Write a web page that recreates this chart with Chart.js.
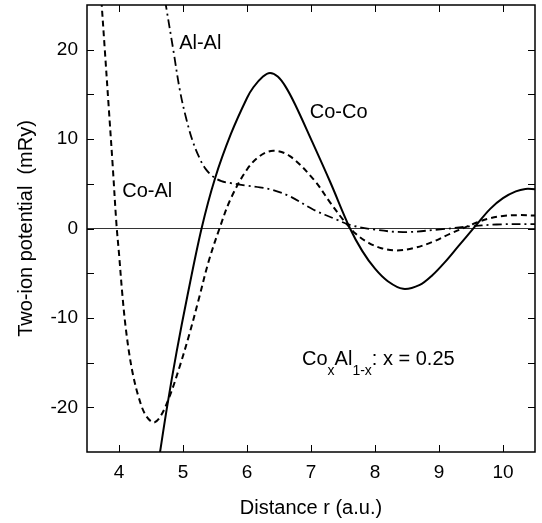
<!DOCTYPE html>
<html>
<head>
<meta charset="utf-8">
<script src="https://cdn.jsdelivr.net/npm/chart.js@4"></script>
<style>
  html, body { margin: 0; padding: 0; background: #fff; }
  canvas { display: block; }
</style>
</head>
<body>
<canvas id="chart" width="542" height="523"></canvas>
<script>
// two-ion potentials (r in a.u., V in mRy)
const coCoR = [4.62, 4.75, 4.9, 5.07, 5.29, 5.5, 5.75, 6.0, 6.1, 6.25, 6.36, 6.48, 6.6, 6.75, 7.0,
  7.3, 7.61, 7.8, 8.0, 8.2, 8.44, 8.7, 8.9, 9.1, 9.3, 9.56, 9.8, 10.0, 10.2, 10.35, 10.5];
const coCoV = [-26, -20, -13.8, -7.5, 0, 5.6, 10.6, 14.6, 15.8, 17.0, 17.4, 17.0, 15.9, 13.9, 10.0,
  5.2, 0, -2.5, -4.5, -5.9, -6.75, -6.3, -5.2, -3.7, -2.0, 0.2, 2.2, 3.4, 4.15, 4.42, 4.4];

const coAlR = [3.725, 3.78, 3.84, 3.9, 3.96, 4.0, 4.05, 4.1, 4.16, 4.22, 4.3, 4.41, 4.54, 4.65,
  4.8, 4.95, 5.1, 5.25, 5.4, 5.57, 5.75, 6.0, 6.2, 6.41, 6.67, 7.04, 7.3, 7.5, 7.7, 7.9, 8.1,
  8.34, 8.6, 8.9, 9.17, 9.4, 9.6, 9.8, 10.0, 10.25, 10.5];
const coAlV = [25.5, 19.8, 13.5, 7.2, 0.5, -2.8, -7.2, -10.8, -14.0, -16.4, -18.7, -20.8, -21.7, -21.0,
  -18.6, -15.4, -11.8, -7.8, -3.7, 0, 3.4, 6.6, 8.1, 8.7, 8.1, 5.5, 2.9, 1.0, -0.6, -1.6, -2.2,
  -2.45, -2.2, -1.5, -0.6, 0.1, 0.7, 1.15, 1.4, 1.5, 1.45];

const alAlR = [4.72, 4.85, 4.95, 5.05, 5.15, 5.25, 5.35, 5.47, 5.6, 5.73, 5.99, 6.2, 6.41, 6.67,
  7.04, 7.4, 7.61, 7.97, 8.44, 9.02, 9.43, 9.9, 10.5];
const alAlV = [25.5, 19.9, 15.5, 12.3, 9.8, 8.0, 6.7, 5.8, 5.3, 5.1, 4.8, 4.6, 4.3, 3.6,
  2.1, 1.0, 0.4, -0.1, -0.4, -0.1, 0.2, 0.45, 0.5];

const xTicks = [4, 5, 6, 7, 8, 9, 10];
const yTicks = [-20, -15, -10, -5, 0, 5, 10, 15, 20];

const FONT = "'Liberation Sans', Arial, Helvetica, sans-serif";

function toPoints(xs, ys) {
  return xs.map((x, i) => ({ x: x, y: ys[i] }));
}

function series(xs, ys, dash, width) {
  return {
    data: toPoints(xs, ys),
    borderColor: '#000',
    borderWidth: width,
    borderDash: dash,
    pointRadius: 0,
    showLine: true,
    fill: false,
    tension: 0.35
  };
}

// curve labels, placed in data coordinates (left edge, baseline)
const labels = [
  { text: 'Al-Al', x: 4.94, y: 20.1 },
  { text: 'Co-Co', x: 6.98, y: 12.4 },
  { text: 'Co-Al', x: 4.05, y: 3.5 }
];

const framePlugin = {
  id: 'frame',
  afterDatasetsDraw(chart) {
    const ctx = chart.ctx;
    const a = chart.chartArea;
    const xs = chart.scales.x, ys = chart.scales.y;
    ctx.save();
    ctx.strokeStyle = '#000';
    ctx.lineWidth = 1.5;
    ctx.strokeRect(a.left, a.top, a.right - a.left, a.bottom - a.top);
    ctx.lineWidth = 1;
    const tl = 7;
    ctx.beginPath();
    xTicks.forEach(v => {
      const p = Math.round(xs.getPixelForValue(v)) + 0.5;
      ctx.moveTo(p, a.bottom); ctx.lineTo(p, a.bottom - tl);
      ctx.moveTo(p, a.top); ctx.lineTo(p, a.top + tl);
    });
    yTicks.forEach(v => {
      const p = Math.round(ys.getPixelForValue(v)) + 0.5;
      ctx.moveTo(a.left, p); ctx.lineTo(a.left + tl, p);
      ctx.moveTo(a.right, p); ctx.lineTo(a.right - tl, p);
    });
    ctx.stroke();

    ctx.fillStyle = '#000';
    ctx.textBaseline = 'alphabetic';
    ctx.textAlign = 'left';
    ctx.font = '20px ' + FONT;
    labels.forEach(l => {
      ctx.fillText(l.text, xs.getPixelForValue(l.x), ys.getPixelForValue(l.y));
    });

    // Co_x Al_{1-x}: x = 0.25
    let px = xs.getPixelForValue(6.86);
    const py = ys.getPixelForValue(-15.3);
    const parts = [['Co', 0], ['x', 1], ['Al', 0], ['1-x', 1], [': x = 0.25', 0]];
    parts.forEach(([t, sub]) => {
      ctx.font = (sub ? '14px ' : '20px ') + FONT;
      ctx.fillText(t, px, py + (sub ? 10 : 0));
      px += ctx.measureText(t).width;
    });
    ctx.restore();
  }
};

new Chart(document.getElementById('chart'), {
  type: 'scatter',
  data: {
    datasets: [
      series(coCoR, coCoV, [], 2),
      series(coAlR, coAlV, [6, 4], 2),
      series(alAlR, alAlV, [9, 4, 2, 4], 1.8)
    ]
  },
  options: {
    responsive: false,
    animation: false,
    layout: { padding: { top: 5, right: 7, bottom: 0, left: 0 } },
    plugins: {
      legend: { display: false },
      tooltip: { enabled: false }
    },
    scales: {
      x: {
        type: 'linear',
        min: 3.5,
        max: 10.5,
        afterBuildTicks: s => { s.ticks = xTicks.map(v => ({ value: v })); },
        afterFit: s => { s.height = 71; s.paddingLeft = 0; s.paddingRight = 0; },
        grid: { display: false, drawTicks: false },
        border: { display: false },
        ticks: {
          padding: 9,
          color: '#000',
          font: { family: FONT, size: 19 },
          maxRotation: 0
        },
        title: {
          display: true,
          text: 'Distance r (a.u.)',
          color: '#000',
          font: { family: FONT, size: 20 },
          padding: { top: 0, bottom: 3 }
        }
      },
      y: {
        type: 'linear',
        min: -25,
        max: 25,
        afterBuildTicks: s => { s.ticks = yTicks.map(v => ({ value: v })); },
        afterFit: s => { s.width = 87; s.paddingTop = 0; s.paddingBottom = 0; },
        grid: {
          drawTicks: false,
          lineWidth: 1,
          color: c => (c.tick && c.tick.value === 0) ? '#333' : 'rgba(0,0,0,0)'
        },
        border: { display: false },
        ticks: {
          padding: 9,
          color: '#000',
          font: { family: FONT, size: 19 },
          callback: v => (v % 10 === 0 ? String(v) : '')
        },
        title: {
          display: true,
          text: 'Two-ion potential  (mRy)',
          color: '#000',
          font: { family: FONT, size: 20 },
          padding: { top: 14, bottom: 0 }
        }
      }
    }
  },
  plugins: [framePlugin]
});
</script>
</body>
</html>
